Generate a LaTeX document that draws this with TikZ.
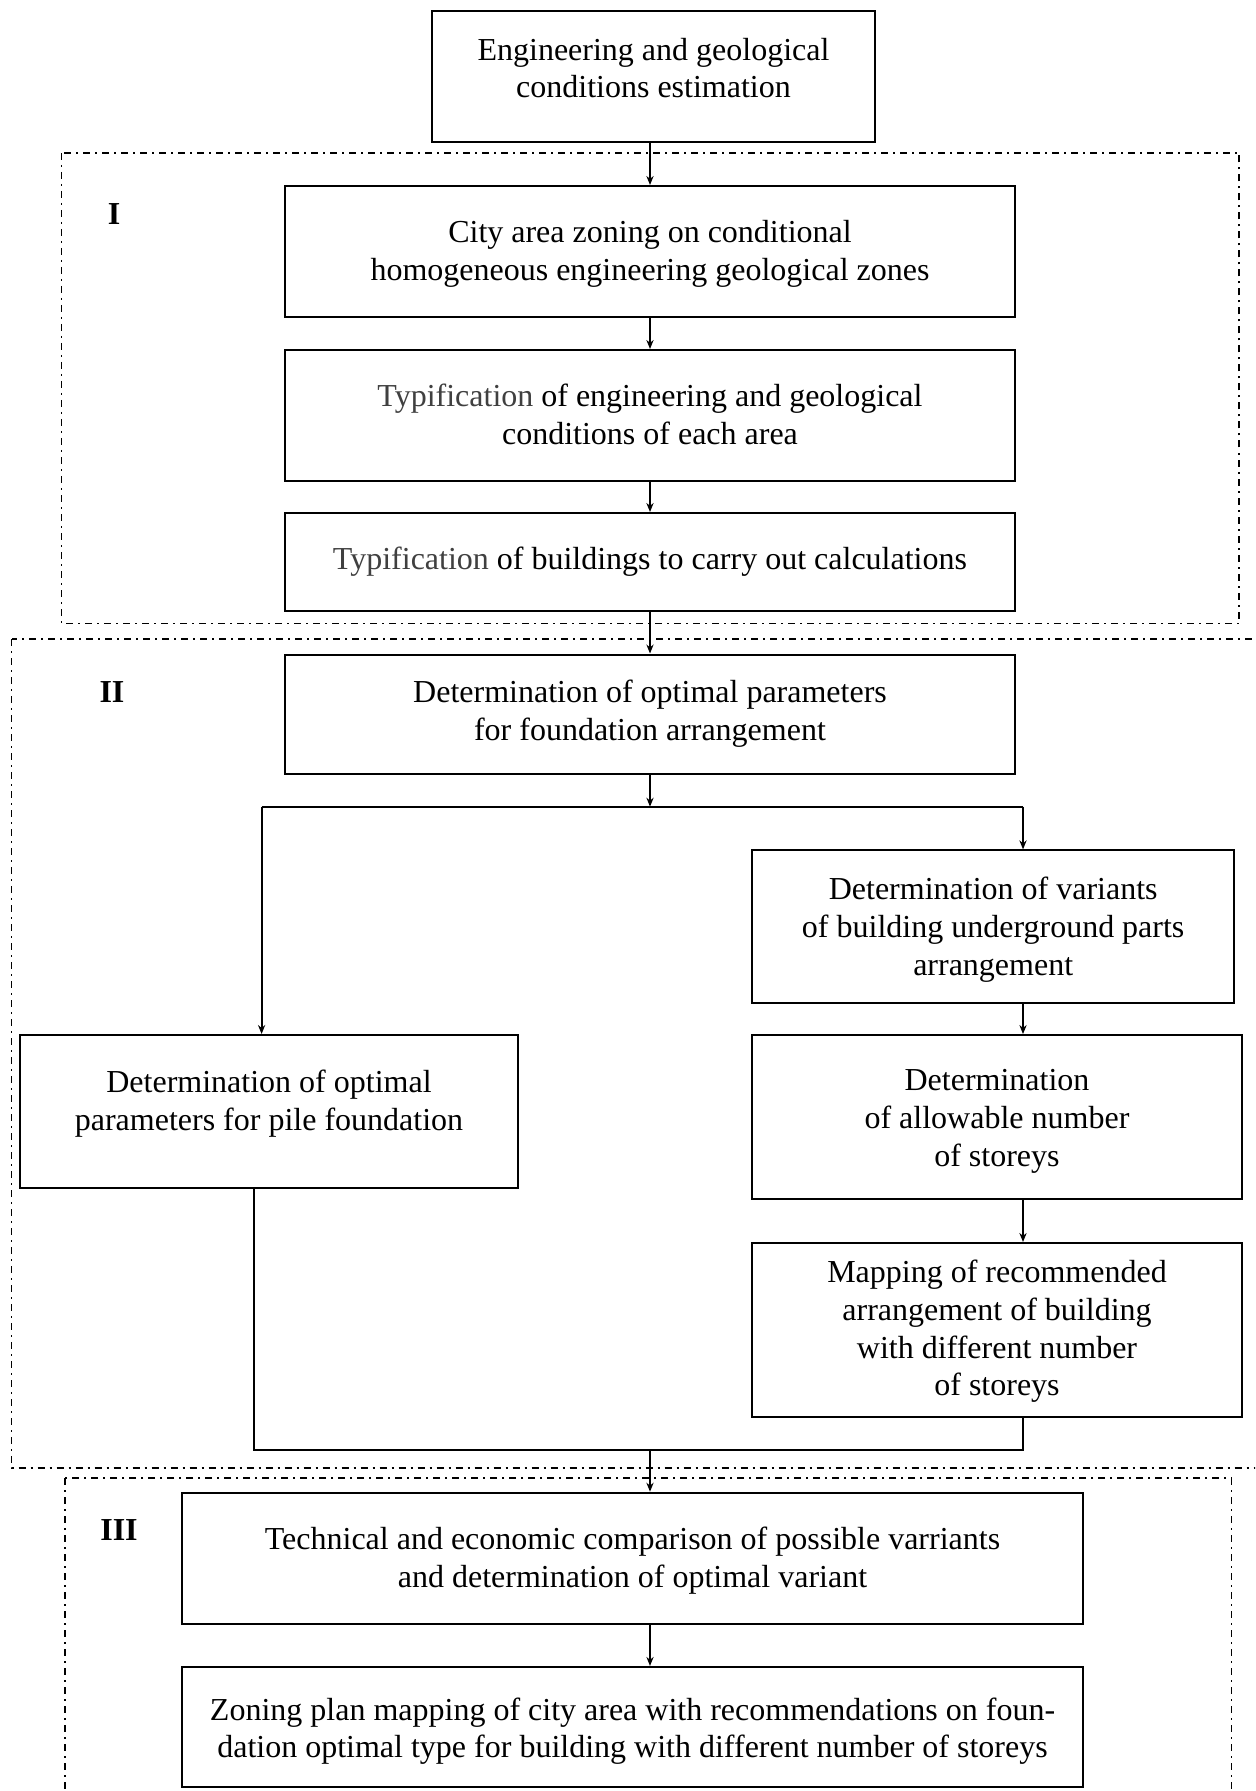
\documentclass[tikz,border=0pt]{standalone}
\usepackage{fontspec}
\setmainfont{Liberation Serif}
\usetikzlibrary{arrows.meta}
\definecolor{typgray}{RGB}{64,64,64}
\newcommand\bodyfs{\fontsize{16}{18.85}\selectfont}
\tikzset{
  box/.style={draw, line width=1pt, inner sep=0pt},
  txt/.style={align=center, font=\bodyfs, inner sep=0pt},
  lbl/.style={font=\bodyfs\bfseries, inner sep=0pt},
  conn/.style={line width=1pt},
  arr/.style={line width=1pt, -{Stealth[length=4.5pt,width=3.6pt]}},
  zone/.style={line width=0.65pt, dash pattern=on 3.5pt off 2.5pt on 1pt off 2.5pt}
}
\begin{document}
\begin{tikzpicture}[x=0.5pt,y=-0.5pt]
\clip (0,0) rectangle (1255,1791);
\fill[white] (0,0) rectangle (1255,1791);

% zones
\draw[zone] (61.5,153) rectangle (1239,623.5);
\draw[zone] (11.5,639) rectangle (1275,1468);
\draw[zone] (65,1478) rectangle (1231.5,1810);
\node[lbl] (lI) at (114,214) {I};
\node[lbl] (lII) at (112,692) {II};
\node[lbl] (lIII) at (119,1530) {III};

% boxes
\node[box, minimum width=221.5pt, minimum height=65.5pt] (top) at (653.5,77) {};
\node[txt] (ttop) at (653.5,68) {Engineering and geological\\conditions estimation};

\node[box, minimum width=365pt, minimum height=65.5pt] (city) at (650,251.5) {};
\node[txt] at (650,253.8) {City area zoning on conditional\\homogeneous engineering geological zones};

\node[box, minimum width=365pt, minimum height=65.25pt] (typA) at (650,415.25) {};
\node[txt] at (650,414.5) {{\color{typgray}Typification} of engineering and geological\\conditions of each area};

\node[box, minimum width=365pt, minimum height=49pt] (typB) at (650,562) {};
\node[txt] at (typB.center) {{\color{typgray}Typification} of buildings to carry out calculations};

\node[box, minimum width=365pt, minimum height=59.75pt] (detopt) at (650,714.25) {};
\node[txt] at (650,713.5) {Determination of optimal parameters\\for foundation arrangement};

\node[box, minimum width=249pt, minimum height=76.5pt] (pile) at (269,1111.5) {};
\node[txt] at (269,1103.4) {Determination of optimal\\parameters for pile foundation};

\node[box, minimum width=241.2pt, minimum height=76.15pt] (var) at (993.2,926.5) {};
\node[txt] at (993.2,929.5) {Determination of variants\\of building underground parts\\arrangement};

\node[box, minimum width=245pt, minimum height=81.85pt] (allow) at (997,1116.9) {};
\node[txt] at (997,1121.2) {Determination\\of allowable number\\of storeys};

\node[box, minimum width=245pt, minimum height=87.2pt] (map) at (997,1330.2) {};
\node[txt] at (997,1331.4) {Mapping of recommended\\arrangement of building\\with different number\\of storeys};

\node[box, minimum width=450.5pt, minimum height=65.5pt] (tech) at (632.5,1558.2) {};
\node[txt] at (632.5,1560.5) {Technical and economic comparison of possible varriants\\and determination of optimal variant};

\node[box, minimum width=450.5pt, minimum height=60.1pt] (zon) at (632.5,1727) {};
\node[txt] at (632.5,1731.2) {Zoning plan mapping of city area with recommendations on foun-\\dation optimal type for building with different number of storeys};

% connectors
\draw[arr] (top.south -| city.north) -- (city.north);
\draw[arr] (city.south) -- (typA.north);
\draw[arr] (typA.south) -- (typB.north);
\draw[arr] (typB.south) -- (detopt.north);

\coordinate (bm) at (650,806.7);
\coordinate (bl) at (261.6,806.7);
\coordinate (bR) at (1023,806.7);
\draw[arr] (detopt.south) -- (bm);
\draw[conn] (bl) -- (bR);
\draw[arr] (bl) -- (bl |- pile.north);
\draw[arr] (bR) -- (bR |- var.north);
\draw[arr] (var.south -| bR) -- (allow.north -| bR);
\draw[arr] (allow.south -| bR) -- (map.north -| bR);

\coordinate (jl) at (254,1449.5);
\coordinate (jr) at (1023,1449.5);
\coordinate (jm) at (650,1449.5);
\draw[conn] (pile.south -| jl) -- (jl) -- (jr) -- (map.south -| jr);
\draw[arr] (jm) -- (tech.north -| jm);
\draw[arr] (tech.south -| jm) -- (zon.north -| jm);
\end{tikzpicture}
\end{document}
